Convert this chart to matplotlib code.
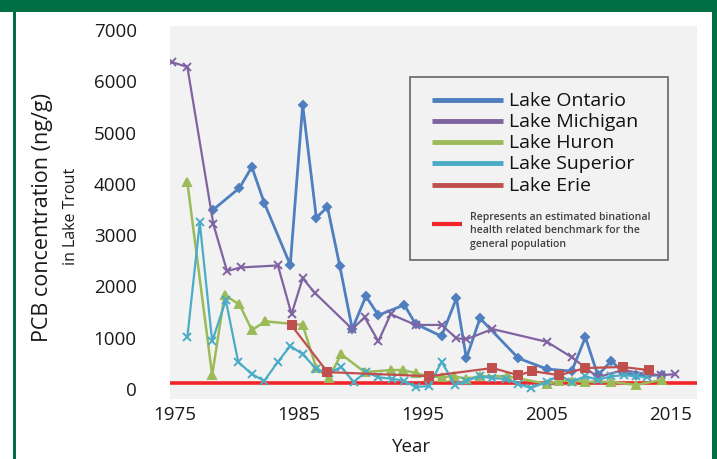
import matplotlib
matplotlib.use("Agg")
import matplotlib.pyplot as plt
from matplotlib.patches import Rectangle
from matplotlib.lines import Line2D

# ---------------- data ----------------
ontario_years = [1978.1, 1980.2, 1981.2, 1982.2, 1984.3, 1985.3, 1986.4, 1987.3, 1988.3,
                 1989.3, 1990.4, 1991.4, 1993.5, 1994.4, 1996.5, 1997.7, 1998.5, 1999.6,
                 2002.7, 2005.0, 2007.0, 2008.1, 2009.1, 2010.2, 2011.1, 2012.2, 2014.3]
ontario_vals = [3480, 3900, 4310, 3610, 2400, 5520, 3320, 3530, 2370,
                1150, 1790, 1420, 1620, 1250, 1010, 1750, 580, 1360,
                580, 370, 330, 990, 250, 530, 310, 250, 250]

michigan_years = [1974.8, 1976.0, 1978.1, 1979.2, 1980.3, 1983.3, 1984.4, 1985.3, 1986.3,
                  1989.3, 1990.3, 1991.4, 1992.4, 1994.4, 1996.5, 1997.7, 1998.5, 2000.6,
                  2005.0, 2007.0, 2009.1, 2011.1, 2013.1, 2014.2, 2015.3]
michigan_vals = [6350, 6260, 3190, 2280, 2350, 2390, 1440, 2140, 1850,
                 1150, 1380, 910, 1440, 1230, 1230, 970, 950, 1150,
                 900, 600, 210, 350, 270, 250, 270]

huron_years = [1976.0, 1978.0, 1979.0, 1980.2, 1981.2, 1982.3, 1985.3, 1986.4, 1987.4,
               1988.4, 1990.3, 1992.4, 1993.4, 1994.4, 1995.5, 1996.5, 1997.5, 1998.5,
               1999.6, 2001.8, 2005.0, 2006.0, 2007.0, 2008.1, 2010.2, 2012.2, 2014.3]
huron_vals = [4010, 250, 1810, 1630, 1130, 1300, 1230, 390, 190,
              660, 310, 350, 350, 290, 230, 210, 230, 180,
              230, 230, 80, 140, 140, 120, 120, 60, 160]

superior_years = [1976.0, 1977.0, 1978.0, 1979.1, 1980.1, 1981.2, 1982.2, 1983.3, 1984.3,
                  1985.3, 1986.4, 1987.4, 1988.4, 1989.4, 1990.4, 1991.4, 1992.5, 1993.5,
                  1994.4, 1995.5, 1996.5, 1997.6, 1998.5, 1999.6, 2000.6, 2001.7, 2002.7,
                  2003.7, 2005.0, 2006.0, 2007.0, 2008.1, 2009.1, 2010.2, 2011.2, 2012.2,
                  2013.1]
superior_vals = [990, 3230, 910, 1710, 510, 270, 140, 510, 820,
                 660, 370, 290, 410, 120, 310, 210, 180, 140,
                 20, 40, 510, 60, 140, 230, 190, 180, 80,
                 0, 120, 250, 120, 230, 160, 230, 250, 230,
                 210]

erie_years = [1984.4, 1987.3, 1995.5, 2000.6, 2002.7, 2003.8, 2006.0, 2008.1, 2011.1, 2013.2]
erie_vals = [1220, 310, 230, 390, 250, 330, 250, 390, 410, 350]

benchmark = 100

series_names = ["Lake Ontario", "Lake Michigan", "Lake Huron", "Lake Superior", "Lake Erie"]
benchmark_text = ("Represents an estimated binational\n"
                  "health related benchmark for the\n"
                  "general population")
x_ticks = [1975, 1985, 1995, 2005, 2015]
y_ticks = [0, 1000, 2000, 3000, 4000, 5000, 6000, 7000]

# ---------------- styling ----------------
colors = ["#4F7FBF", "#8064A2", "#9BBB59", "#4BACC6", "#C0504D"]
markers = ["D", "x", "^", "x", "s"]
msizes = [4.5, 6, 5.5, 6, 5.5]
lws = [2.0, 1.6, 1.8, 1.6, 1.6]
green = "#006F46"

plt.rcParams['font.family'] = ['Open Sans', 'DejaVu Sans']

W, H = 717, 460
fig = plt.figure(figsize=(W / 100, H / 100), dpi=100)
fig.patch.set_facecolor("white")

# page frame (green band on top, thin green lines at sides)
fig.patches.append(Rectangle((0, 1 - 13 / H), 1, 13 / H, transform=fig.transFigure,
                             facecolor=green, edgecolor="none", zorder=0))
fig.patches.append(Rectangle((13 / W, 0), 3 / W, 1, transform=fig.transFigure,
                             facecolor=green, edgecolor="none", zorder=0))
fig.patches.append(Rectangle((712 / W, 0), 5 / W, 1, transform=fig.transFigure,
                             facecolor=green, edgecolor="none", zorder=0))

ax_l, ax_r, ax_t, ax_b = 170, 697, 27, 400
ax = fig.add_axes([ax_l / W, 1 - ax_b / H, (ax_r - ax_l) / W, (ax_b - ax_t) / H])
ax.set_facecolor("#F2F2F2")
for s in ax.spines.values():
    s.set_visible(False)

ax.set_xlim(1974.6, 2017.1)
ax.set_ylim(-214, 7058)

data = [(ontario_years, ontario_vals), (michigan_years, michigan_vals),
        (huron_years, huron_vals), (superior_years, superior_vals),
        (erie_years, erie_vals)]
for (xs, ys), c, m, ms, lw in zip(data, colors, markers, msizes, lws):
    ax.plot(xs, ys, color=c, lw=lw, marker=m, ms=ms, mew=1.4,
            markeredgecolor=c, markerfacecolor=c, solid_joinstyle="miter")

ax.axhline(benchmark, color="#F0262A", lw=2.6, zorder=1)

ax.set_xticks(x_ticks)
ax.set_yticks(y_ticks)
ax.set_xticklabels([str(v) for v in x_ticks])
ax.set_yticklabels([str(v) for v in y_ticks])
ax.tick_params(axis="both", length=0, labelsize=13.5, colors="#1A1A1A")
ax.tick_params(axis="y", pad=24)
ax.tick_params(axis="x", pad=4)

fig.text(412 / W, 1 - 447 / H, "Year", ha="center", va="center", fontsize=13.5, color="#1A1A1A")
fig.text(43 / W, 1 - 218 / H, "PCB concentration (ng/g)", rotation=90, ha="center",
         va="center", fontsize=15.5, color="#1A1A1A")
fig.text(71 / W, 1 - 216 / H, "in Lake Trout", rotation=90, ha="center", va="center",
         fontsize=11.5, color="#1A1A1A")

# legend box drawn in figure pixels
def fx(px):
    return px / W


def fy(py):
    return 1 - py / H


fig.patches.append(Rectangle((fx(410), fy(261)), fx(668) - fx(410), fy(78) - fy(261),
                             transform=fig.transFigure, facecolor="none",
                             edgecolor="#707070", lw=1.3, zorder=5))
entry_y = [101, 122, 143, 164, 186]
for name, c, py in zip(series_names, colors, entry_y):
    fig.lines.append(Line2D([fx(432), fx(503)], [fy(py), fy(py)], color=c, lw=3.5,
                            transform=fig.transFigure, zorder=6, solid_capstyle="butt"))
    fig.text(fx(509), fy(py), name, ha="left", va="center", fontsize=14, color="#111111",
             zorder=6)
fig.lines.append(Line2D([fx(432), fx(462)], [fy(225), fy(225)], color="#F0262A", lw=3,
                        transform=fig.transFigure, zorder=6, solid_capstyle="butt"))
fig.text(fx(470), fy(231), benchmark_text, ha="left", va="center", fontsize=7.6,
         color="#404040", linespacing=1.35, fontweight="semibold", zorder=6)

fig.savefig("out.png", dpi=100, facecolor="white")
